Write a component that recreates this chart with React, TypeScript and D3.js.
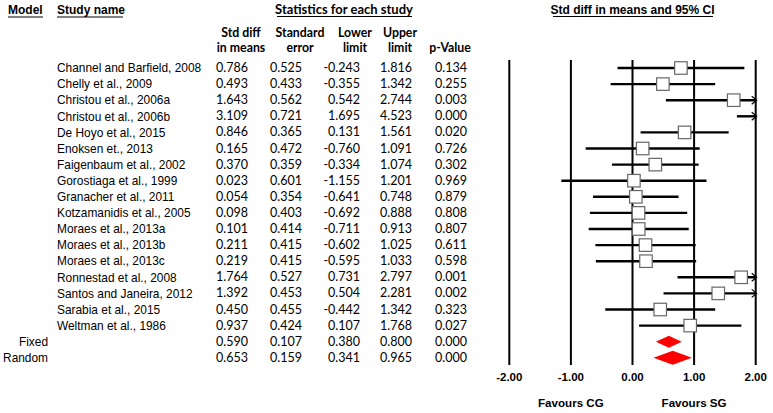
import React from "react";
import * as d3 from "d3";

const studies = [
  "Channel and Barfield, 2008",
  "Chelly et al., 2009",
  "Christou et al., 2006a",
  "Christou et al., 2006b",
  "De Hoyo et al., 2015",
  "Enoksen et., 2013",
  "Faigenbaum et al., 2002",
  "Gorostiaga et al., 1999",
  "Granacher et al., 2011",
  "Kotzamanidis et al., 2005",
  "Moraes et al., 2013a",
  "Moraes et al., 2013b",
  "Moraes et al., 2013c",
  "Ronnestad et al., 2008",
  "Santos and Janeira, 2012",
  "Sarabia et al., 2015",
  "Weltman et al., 1986",
];
const stdDiff = [0.786, 0.493, 1.643, 3.109, 0.846, 0.165, 0.37, 0.023, 0.054, 0.098, 0.101, 0.211, 0.219, 1.764, 1.392, 0.45, 0.937];
const stdErr = [0.525, 0.433, 0.562, 0.721, 0.365, 0.472, 0.359, 0.601, 0.354, 0.403, 0.414, 0.415, 0.415, 0.527, 0.453, 0.455, 0.424];
const lower = [-0.243, -0.355, 0.542, 1.695, 0.131, -0.76, -0.334, -1.155, -0.641, -0.692, -0.711, -0.602, -0.595, 0.731, 0.504, -0.442, 0.107];
const upper = [1.816, 1.342, 2.744, 4.523, 1.561, 1.091, 1.074, 1.201, 0.748, 0.888, 0.913, 1.025, 1.033, 2.797, 2.281, 1.342, 1.768];
const pValue = [0.134, 0.255, 0.003, 0.0, 0.02, 0.726, 0.302, 0.969, 0.879, 0.808, 0.807, 0.611, 0.598, 0.001, 0.002, 0.323, 0.027];

const models = ["Fixed", "Random"];
const sumDiff = [0.59, 0.653];
const sumErr = [0.107, 0.159];
const sumLower = [0.38, 0.341];
const sumUpper = [0.8, 0.965];
const sumP = [0.0, 0.0];

const ticks = [-2, -1, 0, 1, 2];
const favours = [
  { label: "Favours CG", at: -1 },
  { label: "Favours SG", at: 1 },
];

const locale = d3.formatLocale({ decimal: ".", thousands: ",", grouping: [3], currency: ["", ""], minus: "-" });
const f3 = locale.format(".3f");
const f2 = locale.format(".2f");

export default function App() {
  const W = 773;
  const H = 413;
  const x = d3.scaleLinear().domain([-2, 2]).range([509.3, 755.7]);
  const nRows = studies.length + models.length;
  const y = d3.scaleLinear().domain([0, nRows - 1]).range([68, 68 + (nRows - 1) * 16.1]);

  const arial = "Liberation Sans, Arial, sans-serif";
  const cal = "Lato, Carlito, Calibri, sans-serif";
  const valFS = 12.5;

  const cols = [
    { right: 248, vals: stdDiff, sv: sumDiff },
    { right: 302, vals: stdErr, sv: sumErr },
    { right: 360, vals: lower, sv: sumLower },
    { right: 412, vals: upper, sv: sumUpper },
    { right: 467, vals: pValue, sv: sumP },
  ];
  const heads = [
    { cx: 241, l1: "Std diff", l2: "in means" },
    { cx: 300, l1: "Standard", l2: "error" },
    { cx: 355, l1: "Lower", l2: "limit" },
    { cx: 400, l1: "Upper", l2: "limit" },
    { cx: 450, l1: "", l2: "p-Value" },
  ];

  const [dmin, dmax] = x.domain();
  const box = 12.5;

  return (
    <svg width={W} height={H} style={{ position: "absolute", left: 0, top: 0, background: "#fff" }}>
      {/* top headers */}
      <text x={8} y={14} fontFamily={arial} fontWeight="bold" fontSize={12}>Model</text>
      <line x1={8} x2={43} y1={17} y2={17} stroke="#000" strokeWidth={1} />
      <text x={57} y={14} fontFamily={arial} fontWeight="bold" fontSize={12}>Study name</text>
      <line x1={57} x2={123} y1={17} y2={17} stroke="#000" strokeWidth={1} />
      <text x={344} y={14} fontFamily={cal} fontWeight="bold" fontSize={13} textAnchor="middle">Statistics for each study</text>
      <line x1={277} x2={412} y1={16.5} y2={16.5} stroke="#000" strokeWidth={1} />
      <text x={x(0)} y={14} fontFamily={arial} fontWeight="bold" fontSize={12} textAnchor="middle">Std diff in means and 95% CI</text>
      <line x1={553} x2={713} y1={16.5} y2={16.5} stroke="#000" strokeWidth={1} />

      {heads.map((h, i) => (
        <g key={"h" + i} fontFamily={cal} fontWeight="bold" fontSize={12.3} textAnchor="middle">
          {h.l1 && <text x={h.cx} y={36.5}>{h.l1}</text>}
          <text x={h.cx} y={51.5}>{h.l2}</text>
        </g>
      ))}

      {/* study rows text */}
      {studies.map((s, i) => (
        <text key={"s" + i} x={57} y={y(i) + 4.2} fontFamily={arial} fontSize={11.9}>{s}</text>
      ))}
      {models.map((m, j) => (
        <text key={"m" + j} x={48} y={y(studies.length + j) + 4.2} fontFamily={arial} fontSize={11.9} textAnchor="end">{m}</text>
      ))}
      {cols.map((c, ci) => (
        <g key={"c" + ci} fontFamily={cal} fontSize={valFS} textAnchor="end">
          {c.vals.map((v, i) => (
            <text key={i} x={c.right} y={y(i) + 4}>{f3(v)}</text>
          ))}
          {c.sv.map((v, j) => (
            <text key={"sv" + j} x={c.right} y={y(studies.length + j) + 4}>{f3(v)}</text>
          ))}
        </g>
      ))}

      {/* vertical grid lines */}
      {ticks.map((t) => (
        <line key={"v" + t} x1={x(t)} x2={x(t)} y1={60} y2={365} stroke="#000" strokeWidth={2} />
      ))}
      {ticks.map((t) => (
        <text key={"t" + t} x={x(t)} y={381} fontFamily={arial} fontWeight="bold" fontSize={11.5} textAnchor="middle">{f2(t)}</text>
      ))}
      {favours.map((f) => (
        <text key={f.label} x={x(f.at)} y={407} fontFamily={arial} fontWeight="bold" fontSize={11.6} textAnchor="middle">{f.label}</text>
      ))}

      {/* CI lines */}
      {studies.map((s, i) => {
        const lo = Math.max(lower[i], dmin);
        const hi = Math.min(upper[i], dmax);
        const yy = y(i);
        const arrowR = upper[i] > dmax;
        const inRange = stdDiff[i] >= dmin && stdDiff[i] <= dmax;
        return (
          <g key={"ci" + i}>
            <line x1={x(lo)} x2={x(hi)} y1={yy} y2={yy} stroke="#000" strokeWidth={2.4} />
            {arrowR && (
              <path d={`M${x(dmax) - 4},${yy - 4} L${x(dmax) + 1},${yy} L${x(dmax) - 4},${yy + 4}`} fill="none" stroke="#000" strokeWidth={1.2} />
            )}
            {inRange && (
              <rect x={x(stdDiff[i]) - box / 2} y={yy - box / 2} width={box} height={box} fill="#fff" stroke="#666" strokeWidth={1.2} />
            )}
          </g>
        );
      })}

      {/* summary diamonds */}
      {models.map((m, j) => {
        const yy = y(studies.length + j);
        const h = j === 0 ? 6 : 7;
        const d = `M${x(sumLower[j])},${yy} L${x(sumDiff[j])},${yy - h} L${x(sumUpper[j])},${yy} L${x(sumDiff[j])},${yy + h} Z`;
        return <path key={"d" + j} d={d} fill="#ff0000" stroke="none" />;
      })}
    </svg>
  );
}
